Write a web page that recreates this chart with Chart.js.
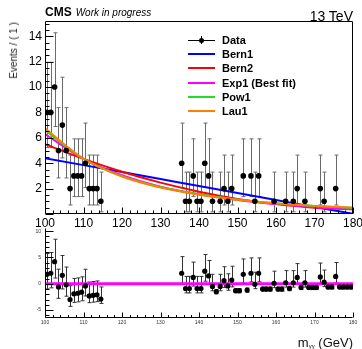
<!DOCTYPE html>
<html>
<head>
<meta charset="utf-8">
<script src="https://cdn.jsdelivr.net/npm/chart.js@4.4.1/dist/chart.umd.min.js"></script>
<style>
  html, body { margin: 0; padding: 0; background: #fff; }
  #wrap { position: relative; width: 362px; height: 349px; overflow: hidden; font-family: "Liberation Sans", Arial, sans-serif; }
  canvas { position: absolute; left: 0; }
  #topCanvas { top: 0; }
  #bottomCanvas { top: 220px; }
  .txt { position: absolute; white-space: nowrap; color: #000; line-height: 1; }
  #cms { left: 45px; top: 6px; font-size: 12px; font-weight: bold; }
  #cms i { font-weight: normal; font-size: 10px; margin-left: 4px; }
  #energy { right: 9px; top: 9px; font-size: 14px; }
  #ytitle { left: 8px; top: 22px; font-size: 10px; line-height: 12px; color: #222;
            transform-origin: 0 0; transform: rotate(-90deg) translateX(-100%); }
  #xtitle { right: 9px; top: 336px; font-size: 13px; color: #111; }
  #xtitle sub { font-size: 6px; vertical-align: -1px; }
  .leg-line { position: absolute; left: 188px; width: 27px; }
  .leg-text { position: absolute; left: 222px; font-size: 11px; font-weight: bold; line-height: 12px; }
</style>
</head>
<body>
<div id="wrap">
  <canvas id="topCanvas" width="362" height="230"></canvas>
  <canvas id="bottomCanvas" width="362" height="129"></canvas>
  <div class="txt" id="cms">CMS<i>Work in progress</i></div>
  <div class="txt" id="energy">13 TeV</div>
  <div class="txt" id="ytitle">Events / ( 1 )</div>
  <div class="txt" id="xtitle">m<sub>γγ</sub> (GeV)</div>
  <div id="legend"></div>
</div>
<script>
// bins with data (the 115-135 window is blinded)
const binsLow = [100.5, 101.5, 102.5, 103.5, 104.5, 105.5, 106.5, 107.5, 108.5, 109.5, 110.5, 111.5, 112.5, 113.5, 114.5];
const countsLow = [8, 8, 10, 5, 7, 5, 2, 3, 3, 3, 4, 2, 2, 2, 1];
const residLow = [1.8, 2.0, 4.2, -0.6, 1.6, -0.2, -3.0, -1.9, -1.8, -1.6, -0.4, -2.3, -2.2, -2.1, -2.9];

const binsHigh = [135.5, 136.5, 137.5, 138.5, 139.5, 140.5, 141.5, 142.5, 143.5, 144.5,
                  145.5, 146.5, 147.5, 148.5, 149.5, 150.5, 151.5, 152.5, 153.5, 154.5,
                  155.5, 156.5, 157.5, 158.5, 159.5, 160.5, 161.5, 162.5, 163.5, 164.5,
                  165.5, 166.5, 167.5, 168.5, 169.5, 170.5, 171.5, 172.5, 173.5, 174.5,
                  175.5, 176.5, 177.5, 178.5, 179.5];
const countsHigh = [4, 1, 1, 3, 1, 1, 4, 3, 1, 0,
                    1, 2, 1, 2, 0, 0, 3, 0, 3, 1,
                    3, 0, 0, 0, 1, 0, 0, 1, 0, 1,
                    2, 0, 1, 0, 0, 0, 2, 1, 0, 0,
                    2, 0, 0, 0, 0];
const residHigh = [2.0, -0.9, -0.9, 1.2, -0.9, -0.9, 2.4, 1.5, -0.5, -1.5,
                   -0.5, 0.6, -0.4, 0.7, -1.3, -1.3, 1.8, -1.2, 2.0, -0.1,
                   2.0, -1.0, -1.0, -1.0, 0.1, -1.0, -1.0, 0.2, -0.9, 0.2,
                   1.2, -0.7, 0.2, -0.7, -0.7, -0.7, 1.3, 0.3, -0.6, -0.6,
                   1.4, -0.6, -0.6, -0.6, -0.6];

// asymmetric poisson errors, indexed by count
const errLoByCount = [0, 0.83, 1.29, 1.63, 1.91, 2.16, 2.38, 2.58, 2.77, 2.94, 3.11];
const errHiByCount = [1.84, 2.30, 2.64, 2.92, 3.16, 3.38, 3.58, 3.77, 3.95, 4.11, 4.27];
const residErrZero = 0.4; // bars drawn on empty bins in the ratio pad

// fit functions sampled along mass
const curveX = [100, 110, 120, 130, 140, 150, 160, 170, 180];
const bern1 = [4.40, 3.85, 3.30, 2.75, 2.20, 1.65, 1.10, 0.55, 0.02];
const bern2 = [5.50, 4.34, 3.33, 2.47, 1.76, 1.19, 0.78, 0.50, 0.38];
const exp1  = [6.30, 4.35, 3.05, 2.15, 1.55, 1.10, 0.78, 0.54, 0.37];
const pow1  = [6.60, 4.35, 2.98, 2.12, 1.55, 1.14, 0.84, 0.63, 0.48];
const lau1  = [6.75, 4.35, 2.95, 2.08, 1.52, 1.12, 0.84, 0.64, 0.50];

// axes
const xTicks = [100, 110, 120, 130, 140, 150, 160, 170, 180];
const yTicksTop = [2, 4, 6, 8, 10, 12, 14];
const yTicksBottom = [-5, 0, 5, 10];

const FONT = '"Liberation Sans", Arial, sans-serif';

const allBins = binsLow.concat(binsHigh);
const allCounts = countsLow.concat(countsHigh);
const allResid = residLow.concat(residHigh);

// top pad: only non-empty bins
const topPts = [], topLo = [], topHi = [];
allBins.forEach((b, i) => {
    const n = allCounts[i];
    if (n > 0) {
        topPts.push({ x: b, y: n });
        topLo.push(errLoByCount[n]);
        topHi.push(errHiByCount[n]);
    }
});

const resPts = allBins.map((b, i) => ({ x: b, y: allResid[i] }));
const resLo = allCounts.map(n => n > 0 ? errLoByCount[n] : residErrZero);
const resHi = allCounts.map(n => n > 0 ? errHiByCount[n] : residErrZero);

const fits = [
    { label: 'Bern1', data: bern1, color: '#0000ff', order: 5 },
    { label: 'Bern2', data: bern2, color: '#ff0000', order: 4 },
    { label: 'Exp1 (Best fit)', data: exp1, color: '#ff00ff', order: 3 },
    { label: 'Pow1', data: pow1, color: '#22dd22', order: 2 },
    { label: 'Lau1', data: lau1, color: '#ff8000', order: 1 }
];

// error bars, drawn under the markers
const errorBars = {
    id: 'errorBars',
    beforeDatasetsDraw(chart) {
        const { ctx, chartArea: a, scales: { x, y } } = chart;
        ctx.save();
        ctx.beginPath();
        ctx.rect(a.left, a.top, a.right - a.left, a.bottom - a.top);
        ctx.clip();
        chart.data.datasets.forEach(ds => {
            if (!ds.errLo) return;
            ctx.strokeStyle = ds.errColor;
            ctx.lineWidth = 1;
            ctx.beginPath();
            ds.data.forEach((p, i) => {
                const px = Math.round(x.getPixelForValue(p.x)) + 0.5;
                const yt = y.getPixelForValue(p.y + ds.errHi[i]);
                const yb = y.getPixelForValue(p.y - ds.errLo[i]);
                ctx.moveTo(px, yt); ctx.lineTo(px, yb);
                ctx.moveTo(px - 2, yt); ctx.lineTo(px + 2, yt);
                if (ds.errLo[i] > 0) { ctx.moveTo(px - 2, yb); ctx.lineTo(px + 2, yb); }
            });
            ctx.stroke();
        });
        ctx.restore();
    }
};

// ROOT style frame with ticks pointing inwards
function makeFrame(cfg) {
    return {
        id: 'rootFrame',
        afterDraw(chart) {
            const { ctx, chartArea: a, scales: { x, y } } = chart;
            const L = Math.round(a.left) + 0.5, R = Math.round(a.right) - 0.5;
            const T = Math.round(a.top) + 0.5, B = Math.round(a.bottom) - 0.5;
            ctx.save();
            ctx.strokeStyle = '#000';
            ctx.lineWidth = 1;
            ctx.beginPath();
            if (cfg.box) {
                ctx.moveTo(L, B); ctx.lineTo(L, T); ctx.lineTo(R, T); ctx.lineTo(R, B); ctx.lineTo(L, B);
            } else {
                ctx.moveTo(L, T); ctx.lineTo(L, B); ctx.lineTo(R, B);
            }
            for (let v = x.min; v <= x.max + 1e-6; v += cfg.xMinor) {
                const major = Math.abs(v / cfg.xMajor - Math.round(v / cfg.xMajor)) < 1e-6;
                const px = Math.round(x.getPixelForValue(v)) + 0.5;
                ctx.moveTo(px, B); ctx.lineTo(px, B - (major ? cfg.xLen : cfg.xLen / 2));
            }
            for (let v = Math.ceil(y.min / cfg.yMinor) * cfg.yMinor; v <= y.max + 1e-6; v += cfg.yMinor) {
                const major = Math.abs(v / cfg.yMajor - Math.round(v / cfg.yMajor)) < 1e-6;
                const py = Math.round(y.getPixelForValue(v)) + 0.5;
                ctx.moveTo(L, py); ctx.lineTo(L + (major ? cfg.yLen : cfg.yLen / 2), py);
            }
            ctx.stroke();
            ctx.restore();
        }
    };
}

function axisX(tickSize, height, color) {
    return {
        type: 'linear', min: 100, max: 180,
        grid: { display: false, drawTicks: false },
        border: { display: false },
        ticks: { font: { family: FONT, size: tickSize }, color, padding: 2, maxRotation: 0, minRotation: 0, autoSkip: false },
        afterBuildTicks: s => { s.ticks = xTicks.map(v => ({ value: v })); },
        afterFit: s => { s.height = height; s.paddingLeft = 0; s.paddingRight = 0; }
    };
}

function axisY(min, max, ticks, tickSize, pad, color) {
    return {
        type: 'linear', min, max,
        grid: { display: false, drawTicks: false },
        border: { display: false },
        ticks: { font: { family: FONT, size: tickSize }, color, padding: pad },
        afterBuildTicks: s => { s.ticks = ticks.map(v => ({ value: v })); },
        afterFit: s => { s.width = 45; s.paddingTop = 0; s.paddingBottom = 0; }
    };
}

const baseOptions = {
    responsive: false,
    animation: false,
    events: [],
    plugins: { legend: { display: false }, tooltip: { enabled: false } }
};

new Chart(document.getElementById('topCanvas'), {
    type: 'scatter',
    data: {
        datasets: [
            {
                label: 'Data', data: topPts, order: 0,
                pointRadius: 2.8, borderWidth: 0, backgroundColor: '#000',
                errLo: topLo, errHi: topHi, errColor: '#6a6a6a'
            },
            ...fits.map(f => ({
                label: f.label,
                data: curveX.map((m, i) => ({ x: m, y: f.data[i] })),
                order: f.order,
                showLine: true,
                borderColor: f.color,
                borderWidth: 2,
                pointRadius: 0,
                cubicInterpolationMode: 'monotone'
            }))
        ]
    },
    options: {
        ...baseOptions,
        layout: { padding: { left: 0, right: 9, top: 21, bottom: 0 } },
        scales: {
            x: axisX(12, 16, '#000'),
            y: axisY(0, 15.2, yTicksTop, 12, 3, '#000')
        }
    },
    plugins: [errorBars, makeFrame({ box: true, xMajor: 10, xMinor: 2, xLen: 6, yMajor: 2, yMinor: 0.5, yLen: 8 })]
});

new Chart(document.getElementById('bottomCanvas'), {
    type: 'scatter',
    data: {
        datasets: [
            {
                label: 'Residual', data: resPts, order: 0,
                pointRadius: 2.6, borderWidth: 0, backgroundColor: '#000',
                errLo: resLo, errHi: resHi, errColor: '#333'
            },
            {
                label: 'Exp1', data: [{ x: xTicks[0], y: 0 }, { x: xTicks[xTicks.length - 1], y: 0 }],
                order: 1, showLine: true, borderColor: '#ff00ff', borderWidth: 3, pointRadius: 0
            }
        ]
    },
    options: {
        ...baseOptions,
        layout: { padding: { left: 0, right: 9, top: 8, bottom: 0 } },
        scales: {
            x: axisX(5, 31, '#333'),
            y: axisY(-6.5, 10.6, yTicksBottom, 5, 4, '#333')
        }
    },
    plugins: [errorBars, makeFrame({ box: false, xMajor: 10, xMinor: 2, xLen: 5, yMajor: 5, yMinor: 1, yLen: 8 })]
});

// legend
const legend = document.getElementById('legend');
const rowY = [40, 54.2, 68.4, 82.6, 96.8, 111];
let html = '';
html += `<div class="leg-line" style="top:${rowY[0] - 0.5}px;height:1px;background:#000"></div>`;
html += `<div style="position:absolute;left:201px;top:${rowY[0] - 4}px;width:1px;height:8px;background:#000"></div>`;
html += `<div style="position:absolute;left:199px;top:${rowY[0] - 2.5}px;width:5px;height:5px;border-radius:50%;background:#000"></div>`;
html += `<div class="leg-text" style="top:${rowY[0] - 6}px">Data</div>`;
fits.forEach((f, i) => {
    const yc = rowY[i + 1];
    html += `<div class="leg-line" style="top:${yc - 1}px;height:2px;background:${f.color}"></div>`;
    html += `<div class="leg-text" style="top:${yc - 6}px">${f.label}</div>`;
});
legend.innerHTML = html;
</script>
</body>
</html>
